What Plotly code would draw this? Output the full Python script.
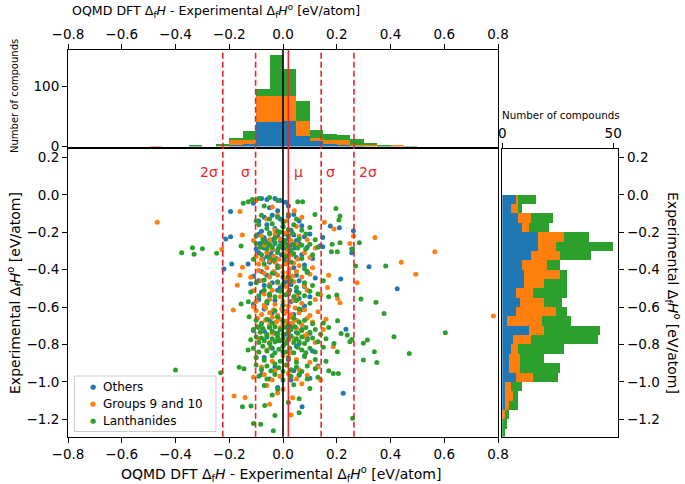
import plotly.graph_objects as go

# ---------------- data ----------------
mu = 0.02
sigma = 0.122

others_pts = [
(-0.08,-0.02),(-0.06,-0.025),(-0.03,-0.02),(-0.01,-0.03),(0.01,-0.04),(-0.11,-0.045),
(-0.195,-0.09),(-0.05,-0.07),(0.02,-0.06),(-0.02,-0.085),
(-0.07,-0.12),(-0.04,-0.11),(-0.01,-0.13),(0.02,-0.115),(0.06,-0.14),(-0.09,-0.14),(0.04,-0.105),
(0.176,-0.167),(0.21,-0.176),(0.262,-0.192),(-0.06,-0.16),(-0.03,-0.18),(0.0,-0.17),(0.03,-0.19),(-0.08,-0.195),(0.07,-0.165),
(-0.213,-0.237),(-0.195,-0.224),(0.148,-0.228),(-0.09,-0.21),(-0.07,-0.23),(-0.05,-0.205),(-0.04,-0.24),(-0.02,-0.22),(-0.01,-0.245),(0.01,-0.21),(0.02,-0.235),(0.04,-0.215),(0.05,-0.245),(0.08,-0.225),(-0.06,-0.25),(0.10,-0.21),
(0.138,-0.274),(0.148,-0.278),(0.256,-0.29),(-0.085,-0.26),(-0.07,-0.285),(-0.055,-0.27),(-0.04,-0.295),(-0.03,-0.26),(-0.015,-0.28),(0.0,-0.265),(0.015,-0.29),(0.03,-0.27),(0.045,-0.285),(0.06,-0.26),(0.09,-0.28),(-0.10,-0.29),
(0.256,-0.31),(-0.09,-0.31),(-0.06,-0.33),(-0.045,-0.315),(-0.025,-0.34),(-0.005,-0.32),(0.01,-0.345),(0.03,-0.31),(0.05,-0.335),(0.07,-0.32),(0.11,-0.34),(-0.075,-0.345),(0.02,-0.325),
(-0.22,-0.397),(-0.191,-0.37),(-0.13,-0.37),(0.32,-0.385),(-0.05,-0.36),(-0.02,-0.38),(0.01,-0.365),(0.04,-0.39),(0.08,-0.375),
(-0.08,-0.41),(-0.06,-0.43),(-0.03,-0.42),(0.0,-0.44),(0.02,-0.415),(0.05,-0.43),(0.09,-0.41),(0.12,-0.445),(-0.11,-0.435),(0.215,-0.45),
(-0.09,-0.46),(-0.07,-0.485),(-0.04,-0.47),(-0.01,-0.495),(0.01,-0.465),(0.03,-0.48),(0.06,-0.46),(0.08,-0.49),(-0.12,-0.475),(0.425,-0.502),
(-0.08,-0.52),(-0.05,-0.54),(-0.02,-0.51),(0.02,-0.53),(0.05,-0.515),(0.10,-0.545),
(-0.09,-0.56),(-0.06,-0.58),(-0.03,-0.565),(0.0,-0.59),(0.03,-0.57),(0.06,-0.555),(0.08,-0.595),(-0.11,-0.585),
(-0.07,-0.61),(-0.04,-0.63),(0.0,-0.62),(0.04,-0.64),(0.07,-0.615),(-0.02,-0.645),
(-0.05,-0.67),(0.03,-0.69),
(0.234,-0.719),(-0.09,-0.71),(-0.07,-0.73),(-0.05,-0.705),(-0.03,-0.74),(-0.01,-0.72),(0.01,-0.745),(0.03,-0.71),(0.05,-0.735),(0.07,-0.72),(0.10,-0.74),(-0.11,-0.725),
(-0.06,-0.76),(-0.02,-0.78),(0.02,-0.77),(0.06,-0.795),(0.09,-0.765),
(-0.04,-0.82),(0.0,-0.84),(0.05,-0.81),(0.11,-0.835),
(-0.07,-0.87),(0.02,-0.88),(0.08,-0.86),
(-0.03,-0.92),(0.04,-0.94),(0.13,-0.915),
(-0.08,-0.96),(-0.05,-0.985),(-0.01,-0.97),(0.03,-0.99),(0.06,-0.965),(0.10,-0.98),
(-0.02,-1.03),(0.224,-1.061),(0.071,-1.133),
]

groups_pts = [
(-0.10,-0.03),
(-0.16,-0.09),(0.042,-0.085),(-0.04,-0.065),
(-0.468,-0.147),(0.154,-0.147),(-0.06,-0.13),(-0.02,-0.11),(0.01,-0.14),(0.07,-0.12),
(0.19,-0.183),(-0.03,-0.19),(0.05,-0.17),
(-0.151,-0.215),(0.262,-0.221),(0.342,-0.228),(-0.08,-0.22),(-0.05,-0.24),(-0.03,-0.21),(-0.01,-0.235),(0.01,-0.205),(0.03,-0.245),(0.06,-0.22),(0.09,-0.24),(-0.11,-0.245),
(-0.228,-0.292),(0.249,-0.26),(-0.07,-0.27),(-0.04,-0.29),(0.0,-0.275),(0.02,-0.295),(0.05,-0.265),(0.12,-0.285),
(0.565,-0.305),(-0.10,-0.33),(-0.08,-0.345),(-0.06,-0.31),(-0.035,-0.33),(-0.015,-0.345),(0.005,-0.315),(0.02,-0.34),(0.035,-0.32),(0.055,-0.345),(0.08,-0.31),(0.10,-0.335),(-0.05,-0.35),
(-0.151,-0.388),(0.44,-0.361),(-0.09,-0.37),(-0.06,-0.39),(-0.03,-0.36),(-0.01,-0.385),(0.01,-0.37),(0.025,-0.395),(0.04,-0.365),(0.06,-0.38),(0.11,-0.39),
(-0.16,-0.43),(-0.12,-0.441),(0.494,-0.425),(-0.09,-0.405),(-0.07,-0.42),(-0.05,-0.44),(-0.035,-0.41),(-0.02,-0.43),(0.0,-0.415),(0.01,-0.445),(0.02,-0.42),(0.035,-0.435),(0.05,-0.41),(0.07,-0.44),(0.10,-0.425),(0.17,-0.43),
(-0.17,-0.484),(0.276,-0.47),(0.166,-0.495),(-0.08,-0.46),(-0.05,-0.48),(-0.02,-0.47),(0.01,-0.49),(0.04,-0.465),(0.08,-0.485),
(-0.11,-0.513),(-0.07,-0.53),(-0.04,-0.51),(-0.01,-0.545),(0.02,-0.52),(0.05,-0.54),(0.09,-0.51),(0.14,-0.535),
(0.212,-0.577),(0.203,-0.554),(-0.10,-0.57),(-0.07,-0.59),(-0.05,-0.56),(-0.03,-0.585),(0.0,-0.57),(0.02,-0.595),(0.04,-0.565),(0.07,-0.58),(0.12,-0.56),
(-0.185,-0.616),(0.783,-0.648),(-0.10,-0.62),(-0.08,-0.64),(-0.065,-0.605),(-0.05,-0.63),(-0.035,-0.615),(-0.02,-0.645),(-0.005,-0.61),(0.005,-0.635),(0.015,-0.62),(0.03,-0.64),(0.045,-0.605),(0.06,-0.63),(0.08,-0.615),(0.10,-0.645),(0.13,-0.625),(-0.11,-0.60),
(-0.095,-0.66),(-0.08,-0.685),(-0.065,-0.67),(-0.05,-0.695),(-0.04,-0.655),(-0.025,-0.68),(-0.01,-0.665),(0.0,-0.69),(0.012,-0.675),(0.025,-0.655),(0.035,-0.685),(0.05,-0.67),(0.07,-0.695),(0.09,-0.66),(0.11,-0.68),(0.16,-0.665),
(-0.08,-0.72),(-0.04,-0.74),(-0.01,-0.71),(0.02,-0.73),(0.05,-0.715),(0.09,-0.745),(0.15,-0.72),
(-0.09,-0.77),(-0.05,-0.79),(-0.02,-0.76),(0.01,-0.785),(0.04,-0.77),(0.08,-0.755),(0.12,-0.79),
(0.187,-0.812),(-0.06,-0.83),(0.03,-0.845),
(-0.10,-0.87),(-0.04,-0.89),(0.0,-0.86),(0.05,-0.88),(0.10,-0.895),
(-0.08,-0.92),(-0.03,-0.94),(0.01,-0.91),(0.06,-0.935),(0.13,-0.92),
(-0.11,-0.975),(-0.07,-0.96),(-0.04,-0.99),(-0.01,-0.97),(0.02,-0.955),(0.05,-0.985),(0.09,-0.965),(0.14,-0.99),
(-0.06,-1.02),(0.0,-1.04),(0.07,-1.01),
(-0.182,-1.076),(-0.141,-1.083),(0.036,-1.085),(-0.02,-1.06),
(-0.05,-1.12),(0.03,-1.177),
]

lanth_pts = [
(-0.148,-0.046),(-0.129,-0.037),(-0.114,-0.025),(-0.09,-0.02),(-0.05,-0.015),(0.055,-0.037),(0.073,-0.037),(-0.02,-0.03),
(0.197,-0.073),(-0.07,-0.06),
(0.119,-0.105),(0.212,-0.114),(0.208,-0.135),(-0.08,-0.11),(-0.05,-0.13),(-0.02,-0.12),(0.0,-0.145),(0.02,-0.105),(0.05,-0.13),(-0.10,-0.14),
(-0.09,-0.16),(-0.06,-0.18),(-0.04,-0.155),(-0.02,-0.195),(0.0,-0.17),(0.02,-0.185),(0.04,-0.16),(0.07,-0.19),(0.10,-0.175),
(-0.10,-0.22),(-0.075,-0.24),(-0.05,-0.21),(-0.03,-0.23),(-0.01,-0.2),(0.005,-0.245),(0.02,-0.22),(0.035,-0.205),(0.06,-0.235),(0.085,-0.21),(0.12,-0.24),
(-0.337,-0.283),(-0.300,-0.288),(-0.156,-0.274),(0.212,-0.256),(0.183,-0.265),(0.284,-0.256),(0.259,-0.292),(-0.10,-0.26),(-0.085,-0.28),(-0.07,-0.255),(-0.06,-0.29),(-0.05,-0.265),(-0.04,-0.28),(-0.03,-0.255),(-0.02,-0.295),(-0.01,-0.27),(0.0,-0.285),(0.01,-0.26),(0.02,-0.275),(0.03,-0.295),(0.04,-0.265),(0.055,-0.285),(0.07,-0.27),(0.085,-0.29),(0.10,-0.265),(0.13,-0.28),
(-0.377,-0.31),(-0.331,-0.318),(-0.247,-0.313),(-0.11,-0.345),(0.18,-0.305),(0.202,-0.305),(-0.08,-0.32),(-0.05,-0.335),(-0.02,-0.31),(0.01,-0.33),(0.04,-0.315),(0.07,-0.34),(0.11,-0.32),(-0.035,-0.35),
(0.27,-0.381),(0.382,-0.381),(-0.07,-0.37),(-0.02,-0.39),(0.03,-0.36),(0.08,-0.395),
(-0.04,-0.42),(0.02,-0.44),(0.09,-0.415),
(-0.10,-0.47),(-0.07,-0.455),(-0.05,-0.49),(-0.02,-0.465),(0.0,-0.48),(0.03,-0.46),(0.05,-0.495),(0.08,-0.47),(0.11,-0.485),(0.15,-0.46),
(0.2,-0.536),(-0.12,-0.52),(-0.09,-0.54),(-0.07,-0.51),(-0.05,-0.53),(-0.03,-0.545),(-0.01,-0.515),(0.01,-0.535),(0.025,-0.51),(0.04,-0.545),(0.06,-0.525),(0.08,-0.54),(0.10,-0.515),(0.13,-0.53),(0.17,-0.545),
(-0.156,-0.584),(-0.129,-0.572),(0.29,-0.557),(0.346,-0.575),(-0.06,-0.57),(0.0,-0.59),(0.05,-0.565),(0.10,-0.58),
(-0.126,-0.652),(0.376,-0.634),(-0.03,-0.62),(0.06,-0.61),
(0.203,-0.673),(-0.10,-0.67),(-0.08,-0.69),(-0.06,-0.665),(-0.04,-0.685),(-0.02,-0.655),(0.0,-0.675),(0.02,-0.695),(0.04,-0.66),(0.06,-0.68),(0.08,-0.67),(0.11,-0.69),(0.15,-0.685),
(0.216,-0.741),(0.239,-0.75),(0.604,-0.737),(-0.11,-0.72),(-0.095,-0.705),(-0.085,-0.735),(-0.075,-0.715),(-0.06,-0.745),(-0.05,-0.71),(-0.04,-0.73),(-0.03,-0.705),(-0.02,-0.74),(-0.01,-0.72),(0.0,-0.745),(0.01,-0.71),(0.02,-0.735),(0.03,-0.72),(0.045,-0.705),(0.055,-0.74),(0.07,-0.725),(0.085,-0.71),(0.10,-0.735),(0.12,-0.72),(0.14,-0.745),(0.17,-0.71),
(0.413,-0.759),(0.314,-0.776),(0.299,-0.794),(0.249,-0.786),(0.256,-0.773),(-0.12,-0.775),(-0.10,-0.76),(-0.09,-0.79),(-0.08,-0.765),(-0.07,-0.78),(-0.06,-0.755),(-0.05,-0.795),(-0.04,-0.77),(-0.03,-0.785),(-0.02,-0.76),(-0.01,-0.78),(0.0,-0.765),(0.01,-0.795),(0.02,-0.775),(0.03,-0.755),(0.04,-0.79),(0.05,-0.77),(0.06,-0.785),(0.07,-0.76),(0.08,-0.795),(0.09,-0.775),(0.11,-0.765),(0.13,-0.785),(0.16,-0.77),(0.19,-0.795),
(0.47,-0.848),(0.34,-0.839),(0.202,-0.839),(-0.11,-0.82),(-0.09,-0.84),(-0.075,-0.81),(-0.06,-0.835),(-0.045,-0.815),(-0.03,-0.845),(-0.015,-0.825),(0.0,-0.81),(0.01,-0.84),(0.025,-0.82),(0.04,-0.845),(0.055,-0.815),(0.07,-0.83),(0.085,-0.845),(0.10,-0.82),(0.12,-0.84),(0.15,-0.815),(-0.13,-0.83),
(0.349,-0.896),(0.299,-0.883),(-0.10,-0.87),(-0.07,-0.885),(-0.04,-0.86),(-0.01,-0.89),(0.02,-0.87),(0.05,-0.895),(0.08,-0.865),(0.12,-0.88),(0.16,-0.89),
(-0.4,-0.937),(-0.163,-0.922),(-0.145,-0.93),(-0.10,-0.91),(-0.08,-0.935),(-0.06,-0.915),(-0.045,-0.94),(-0.03,-0.905),(-0.015,-0.925),(0.0,-0.945),(0.015,-0.91),(0.03,-0.935),(0.05,-0.92),(0.07,-0.945),(0.09,-0.915),(0.12,-0.93),(0.17,-0.94),
(-0.232,-0.951),(0.187,-0.955),(0.206,-0.955),(-0.09,-0.97),(-0.06,-0.985),(-0.03,-0.96),(0.0,-0.99),(0.03,-0.97),(0.06,-0.96),(0.09,-0.985),(0.13,-0.975),
(-0.07,-1.02),(-0.02,-1.04),(0.04,-1.015),(0.10,-1.035),
(-0.04,-1.07),(0.06,-1.09),
(-0.151,-1.133),(-0.119,-1.129),(-0.068,-1.126),(0.02,-1.11),
(0.06,-1.165),(-0.03,-1.18),
(-0.11,-1.222),(-0.083,-1.227),(0.259,-1.195),
(-0.036,-1.261),
]

# top histogram (x = DFT - experiment), bins of 0.05, left edges
top_bin_left = [-0.50,-0.45,-0.40,-0.35,-0.30,-0.25,-0.20,-0.15,-0.10,-0.05,0.00,0.05,0.10,0.15,0.20,0.25,0.30,0.35,0.40,0.45]
top_others   = [0,0,0,0,0,0,2,4,40,40,43,18,9,4,3,1,0,0,0,0]
top_groups   = [1,0,0,0,0,1,9,7,43,43,40,25,5,7,7,2,2,0,2,0]
top_lanth    = [0,0,0,2,0,3,3,15,13,69,46,32,14,9,9,9,4,2,1,1]

# right histogram (y = experimental), bins of 0.05, upper edges
right_bin_top = [0.00,-0.05,-0.10,-0.15,-0.20,-0.25,-0.30,-0.35,-0.40,-0.45,-0.50,-0.55,-0.60,
                 -0.65,-0.70,-0.75,-0.80,-0.85,-0.90,-0.95,-1.00,-1.05,-1.10,-1.15,-1.20,-1.25]
right_others = [6,4,7,9,16,16,13,9,10,10,6,8,6,2,12,5,4,3,3,6,1,1,1,0,0,0]
right_groups = [1,3,6,3,12,8,13,11,16,9,8,11,18,16,7,8,3,5,5,8,3,4,2,1,0,0]
right_lanth  = [8,2,10,9,11,26,14,6,3,10,15,8,5,13,25,30,21,11,18,11,5,2,4,2,2,1]

x_ticks = [-0.8,-0.6,-0.4,-0.2,0.0,0.2,0.4,0.6,0.8]
x_tick_labels = ["\u22120.8","\u22120.6","\u22120.4","\u22120.2","0.0","0.2","0.4","0.6","0.8"]
y_ticks = [0.2,0.0,-0.2,-0.4,-0.6,-0.8,-1.0,-1.2]
y_tick_labels = ["0.2","0.0","\u22120.2","\u22120.4","\u22120.6","\u22120.8","\u22121.0","\u22121.2"]

series_names = ["Others", "Groups 9 and 10", "Lanthanides"]
colors = ["#1f77b4", "#ff7f0e", "#2ca02c"]
RED = "#e8262b"
FONT = "DejaVu Sans"

# ---------------- layout geometry ----------------
W, H = 685, 484
def px_x(p): return p / W
def px_y(p): return 1 - p / H

main_x = [px_x(68), px_x(498)]
main_y = [px_y(436.7), px_y(149.3)]
top_y = [px_y(146.5), px_y(50)]
right_x = [px_x(502.3), px_x(618.3)]

fig = go.Figure()

# scatter
for pts, name, c in zip([others_pts, groups_pts, lanth_pts], series_names, colors):
    fig.add_trace(go.Scatter(
        x=[p[0] for p in pts], y=[p[1] for p in pts], mode="markers",
        name=name, marker=dict(color=c, size=5, line=dict(width=0)),
        xaxis="x", yaxis="y", showlegend=False))

# top stacked histogram
for counts, c in zip([top_others, top_groups, top_lanth], colors):
    fig.add_trace(go.Bar(
        x=[b + 0.025 for b in top_bin_left], y=counts, width=0.05,
        marker=dict(color=c, line=dict(width=0)), showlegend=False,
        xaxis="x2", yaxis="y2", hoverinfo="skip"))

# right stacked histogram
for counts, c in zip([right_others, right_groups, right_lanth], colors):
    fig.add_trace(go.Bar(
        y=[b - 0.025 for b in right_bin_top], x=counts, width=0.05, orientation="h",
        marker=dict(color=c, line=dict(width=0)), showlegend=False,
        xaxis="x3", yaxis="y3", hoverinfo="skip"))

axis_common = dict(showline=True, linecolor="black", linewidth=1, mirror=True,
                   ticks="outside", ticklen=5, tickwidth=1, tickcolor="black",
                   showgrid=False, zeroline=False, automargin=False,
                   tickfont=dict(family=FONT, size=13.5, color="black"))

fig.update_layout(
    template="none",
    width=W, height=H, autosize=False,
    margin=dict(l=0, r=0, t=0, b=0, pad=0),
    paper_bgcolor="white", plot_bgcolor="white",
    barmode="stack", bargap=0,
    font=dict(family=FONT, color="black"),
    showlegend=False,
    xaxis=dict(domain=main_x, range=[-0.8, 0.8], anchor="y",
               tickvals=x_ticks, ticktext=x_tick_labels, **axis_common),
    yaxis=dict(domain=main_y, range=[-1.293, 0.243], anchor="x",
               tickvals=y_ticks, ticktext=y_tick_labels, **axis_common),
    xaxis2=dict(domain=main_x, range=[-0.8, 0.8], anchor="y2", side="top",
                tickvals=x_ticks, ticktext=x_tick_labels, **axis_common),
    yaxis2=dict(domain=top_y, range=[0, 160], anchor="x2",
                tickvals=[0, 100], ticktext=["0", "100"], **axis_common),
    xaxis3=dict(domain=right_x, range=[0, 52.3], anchor="y3", side="top",
                tickvals=[0, 50], ticktext=["0", "50"], **axis_common),
    yaxis3=dict(domain=main_y, range=[-1.293, 0.243], anchor="x3", side="right",
                tickvals=y_ticks, ticktext=y_tick_labels, **axis_common),
)

# vertical reference lines through top histogram and main panel
line_specs = [(0.0, "black", "solid"), (mu, RED, "solid"),
              (mu - sigma, RED, "6px,3px"), (mu + sigma, RED, "6px,3px"),
              (mu - 2 * sigma, RED, "6px,3px"), (mu + 2 * sigma, RED, "6px,3px")]
for xv, col, dash in line_specs:
    fig.add_shape(type="line", xref="x", yref="paper", x0=xv, x1=xv,
                  y0=main_y[0], y1=top_y[1], layer="above",
                  line=dict(color=col, width=1.6, dash=dash))

# sigma / mu labels
lab_y = 0.122
labels = [(mu - 2 * sigma, "2\u03c3", "right"), (mu - sigma, "\u03c3", "right"),
          (mu, "\u03bc", "left"), (mu + sigma, "\u03c3", "left"), (mu + 2 * sigma, "2\u03c3", "left")]
for xv, t, anc in labels:
    fig.add_annotation(x=xv + (-0.012 if anc == "right" else 0.012), y=lab_y, xref="x", yref="y",
                       text=t, showarrow=False, xanchor=anc, yanchor="middle",
                       font=dict(family=FONT, size=14, color=RED))

# legend (drawn manually to match the compact matplotlib legend box)
leg_x0, leg_x1, leg_y0, leg_y1 = 74.5, 216, 376, 431.5
fig.add_shape(type="rect", xref="paper", yref="paper",
              x0=px_x(leg_x0), x1=px_x(leg_x1), y0=px_y(leg_y1), y1=px_y(leg_y0),
              line=dict(color="#cccccc", width=1), fillcolor="rgba(255,255,255,0.8)", layer="above")
for i, (name, c) in enumerate(zip(series_names, colors)):
    yy = 386.5 + 17 * i
    fig.add_annotation(x=px_x(93.5), y=px_y(yy), xref="paper", yref="paper", text="\u25cf",
                       showarrow=False, xanchor="center", yanchor="middle",
                       font=dict(family=FONT, size=7, color=c))
    fig.add_annotation(x=px_x(101), y=px_y(yy), xref="paper", yref="paper", text=name,
                       showarrow=False, xanchor="left", yanchor="middle",
                       font=dict(family=FONT, size=12, color="black"))

dfh = "\u0394<sub>f</sub><i>H</i>"
dfho = "\u0394<sub>f</sub><i>H</i><sup>o</sup>"
xtitle = "OQMD DFT " + dfh + " - Experimental " + dfho + " [eV/atom]"
ytitle = "Experimental " + dfho + " [eV/atom]"

fig.add_annotation(x=px_x(216), y=px_y(11), xref="paper", yref="paper", text=xtitle,
                   showarrow=False, xanchor="center", yanchor="middle",
                   font=dict(family=FONT, size=12.6, color="black"))
fig.add_annotation(x=px_x(281), y=px_y(474), xref="paper", yref="paper", text=xtitle,
                   showarrow=False, xanchor="center", yanchor="middle",
                   font=dict(family=FONT, size=14, color="black"))
fig.add_annotation(x=px_x(15), y=px_y(293), xref="paper", yref="paper", text=ytitle,
                   showarrow=False, textangle=-90, xanchor="center", yanchor="middle",
                   font=dict(family=FONT, size=14, color="black"))
fig.add_annotation(x=px_x(673), y=px_y(293), xref="paper", yref="paper", text=ytitle,
                   showarrow=False, textangle=90, xanchor="center", yanchor="middle",
                   font=dict(family=FONT, size=14, color="black"))
fig.add_annotation(x=px_x(14), y=px_y(96), xref="paper", yref="paper", text="Number of compounds",
                   showarrow=False, textangle=-90, xanchor="center", yanchor="middle",
                   font=dict(family=FONT, size=10, color="black"))
fig.add_annotation(x=px_x(561), y=px_y(115), xref="paper", yref="paper", text="Number of compounds",
                   showarrow=False, xanchor="center", yanchor="middle",
                   font=dict(family=FONT, size=10.3, color="black"))

fig.write_html("out.html", config={"displayModeBar": False, "staticPlot": True},
               post_script="document.body.style.margin='0px';document.body.style.overflow='hidden';")
